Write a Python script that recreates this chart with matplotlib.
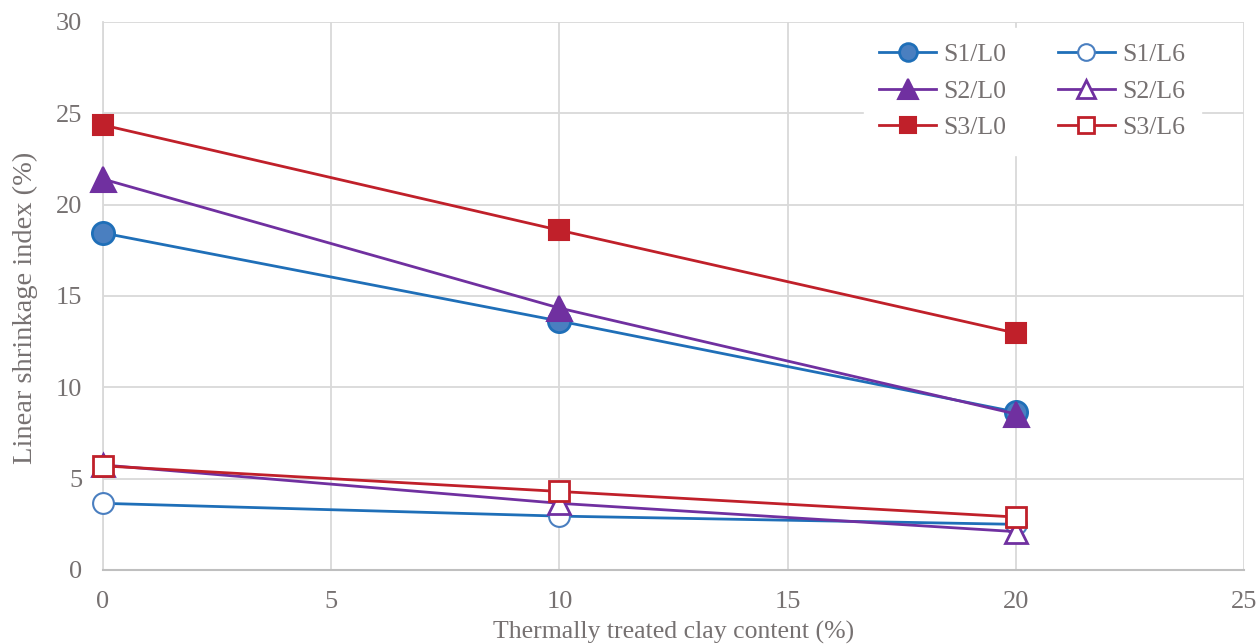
import matplotlib
matplotlib.use("Agg")
import matplotlib.pyplot as plt

x = [0, 10, 20]
s1_l0 = [18.45, 13.63, 8.65]
s2_l0 = [21.4, 14.34, 8.54]
s3_l0 = [24.36, 18.6, 12.97]
s1_l6 = [3.65, 2.95, 2.5]
s2_l6 = [5.75, 3.65, 2.1]
s3_l6 = [5.7, 4.3, 2.9]
labels = ["S1/L0", "S1/L6", "S2/L0", "S2/L6", "S3/L0", "S3/L6"]

plt.rcParams['font.family'] = ['Liberation Serif', 'DejaVu Serif']
txt = '#767171'
blue = '#1f6fb8'
blue_face = '#4a7fc0'
purple = '#7030a0'
red = '#c0202a'

fig = plt.figure(figsize=(12.56, 6.44), dpi=100)
ax = fig.add_axes([103/1256, 1-570/644, (1244-103)/1256, (570-22)/644])

lw = 2.0
kw = dict(clip_on=False, zorder=3, lw=lw)
h = {}
h[0], = ax.plot(x, s1_l0, color=blue, marker='o', ms=16, mfc=blue_face, mec=blue, mew=2, label=labels[0], **kw)
h[1], = ax.plot(x, s1_l6, color=blue, marker='o', ms=15, mfc='white', mec=blue_face, mew=1.5, label=labels[1], **kw)
h[2], = ax.plot(x, s2_l0, color=purple, marker='^', ms=18, mfc=purple, mec=purple, mew=1.5, label=labels[2], **kw)
h[3], = ax.plot(x, s2_l6, color=purple, marker='^', ms=16, mfc='white', mec=purple, mew=2, label=labels[3], **kw)
h[4], = ax.plot(x, s3_l0, color=red, marker='s', ms=15, mfc=red, mec=red, mew=1.5, label=labels[4], **kw)
h[5], = ax.plot(x, s3_l6, color=red, marker='s', ms=14, mfc='white', mec=red, mew=2, label=labels[5], **kw)

ax.set_xlim(0, 25)
ax.set_ylim(0, 30)
ax.set_xticks([0, 5, 10, 15, 20, 25])
ax.set_yticks([0, 5, 10, 15, 20, 25, 30])
ax.grid(True, color='#d9d9d9', lw=1.3)
ax.set_axisbelow(True)
for s in ['top', 'right']:
    ax.spines[s].set_visible(False)
ax.spines['left'].set_color('#d9d9d9')
ax.spines['left'].set_linewidth(1.3)
ax.spines['bottom'].set_color('#bfbfbf')
ax.spines['bottom'].set_linewidth(1.5)
ax.tick_params(axis='both', length=0, labelsize=19, colors=txt)
ax.tick_params(axis='x', pad=15)
ax.tick_params(axis='y', pad=15)
ax.set_xlabel("Thermally treated clay content (%)", fontsize=18.5, color=txt, labelpad=6)
ax.set_ylabel("Linear shrinkage index (%)", fontsize=20.5, color=txt)
ax.yaxis.set_label_coords((38 - 103) / 1141, 0.478)

order = [0, 2, 4, 1, 3, 5]
leg = ax.legend([h[i] for i in order], [labels[i] for i in order], ncol=2,
                loc='upper left', bbox_to_anchor=(864/1256, 1-28/644), bbox_transform=fig.transFigure,
                fontsize=18.5, frameon=True, facecolor='white', edgecolor='white', framealpha=1,
                fancybox=False, labelcolor=txt, handlelength=2.2, columnspacing=2.0, borderaxespad=0,
                borderpad=0.6, handletextpad=0.3, labelspacing=0.52, markerscale=0.8)
fig.savefig("out.png", dpi=100)
